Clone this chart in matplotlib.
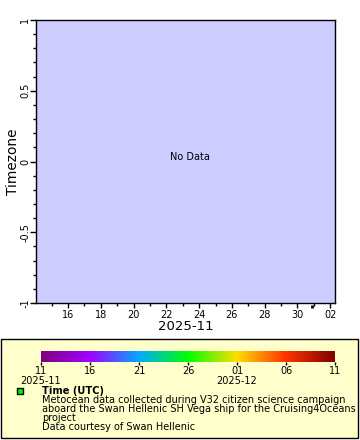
import datetime as dt
import matplotlib
matplotlib.use('Agg')
from matplotlib import pyplot as plt
import matplotlib.dates as mdates
from matplotlib.colors import LinearSegmentedColormap, Normalize
from matplotlib.colorbar import ColorbarBase
from matplotlib.patches import Rectangle
from matplotlib.ticker import MultipleLocator

# axis range and ticks
x_start, x_end = dt.datetime(2025, 11, 14, 1), dt.datetime(2025, 12, 2, 7)
x_ticks = [dt.datetime(2025, 11, d) for d in range(16, 31, 2)] + [dt.datetime(2025, 12, 2)]
x_minor = [dt.datetime(2025, 11, d) for d in range(15, 31, 2)] + [dt.datetime(2025, 12, 1)]
y_ticks = [-1, -0.5, 0, 0.5, 1]
y_ticklabels = ['-1', '-0.5', '0', '0.5', '1']
last_mark = dt.datetime(2025, 11, 30, 22)

# colour bar (time, UTC)
cb_start, cb_end = dt.datetime(2025, 11, 11), dt.datetime(2025, 12, 11)
cb_ticks = [dt.datetime(2025, 11, 11), dt.datetime(2025, 11, 16), dt.datetime(2025, 11, 21),
            dt.datetime(2025, 11, 26), dt.datetime(2025, 12, 1), dt.datetime(2025, 12, 6),
            dt.datetime(2025, 12, 11)]
cb_ticklabels = ['11\n2025-11', '16', '21', '26', '01\n2025-12', '06', '11']
cb_colors = ['#800080', '#a000ff', '#00aaff', '#00ff00', '#ffdd00', '#ff3300', '#800000']

legend_lines = ['Metocean data collected during V32 citizen science campaign',
                'aboard the Swan Hellenic SH Vega ship for the Cruising4Oceans',
                'project',
                'Data courtesy of Swan Hellenic']

W, H = 360, 440
fig = plt.figure(figsize=(W / 100, H / 100), dpi=100)

# legend background, pixel coordinates
lg = fig.add_axes([0, 0, 1, 1], zorder=0)
lg.set_xlim(0, W)
lg.set_ylim(H, 0)
lg.axis('off')
lg.add_patch(Rectangle((1, 339.5), 357, 99, facecolor='#ffffcc', edgecolor='black', linewidth=1))
lg.plot([20], [391], marker='s', markersize=5, markerfacecolor='#00ee00', markeredgecolor='black',
        markeredgewidth=1)
lg.text(42, 391, 'Time (UTC)', fontsize=7.1, fontweight='bold', va='center', ha='left')
for i, line in enumerate(legend_lines):
    lg.text(42, 400.3 + i * 8.8, line, fontsize=7.07, va='center', ha='left')

# main axes
ax = fig.add_axes([36 / W, 1 - 303 / H, 299 / W, 283 / H], zorder=1)
ax.set_facecolor('#ccccff')
ax.xaxis_date()
ax.set_xlim(x_start, x_end)
ax.set_ylim(-1, 1)
ax.set_xticks(x_ticks)
ax.set_xticks(x_minor, minor=True)
ax.xaxis.set_major_formatter(mdates.DateFormatter('%d'))
ax.set_yticks(y_ticks)
ax.set_yticklabels(y_ticklabels, rotation=90, va='center')
ax.yaxis.set_minor_locator(MultipleLocator(0.1))
ax.tick_params(axis='both', which='major', labelsize=7, direction='out', length=3.5, width=1, pad=1.5)
ax.tick_params(axis='both', which='minor', direction='out', length=2, width=1)
ax.tick_params(axis='y', which='major', length=4, pad=0)
for s in ax.spines.values():
    s.set_linewidth(1)
ax.set_xlabel('2025-11', fontsize=9.5, labelpad=0)
ax.set_ylabel('Timezone', fontsize=9.8, labelpad=0)
ax.text(0.515, 0.515, 'No Data', transform=ax.transAxes, fontsize=7, ha='center', va='center')
ax.plot([last_mark, last_mark], [-0.007, -0.019], color='black', linewidth=2,
        transform=ax.get_xaxis_transform(), clip_on=False, solid_capstyle='butt')

# colour bar
cax = fig.add_axes([41 / W, 1 - 362 / H, 294 / W, 11 / H], zorder=2)
cmap = LinearSegmentedColormap.from_list('rainbow2', cb_colors)
norm = Normalize(vmin=mdates.date2num(cb_start), vmax=mdates.date2num(cb_end))
cb = ColorbarBase(cax, cmap=cmap, norm=norm, orientation='horizontal')
cb.outline.set_visible(False)
cb.set_ticks([mdates.date2num(t) for t in cb_ticks])
cb.set_ticklabels(cb_ticklabels)
cax.tick_params(labelsize=7, length=2.5, width=1, pad=0.5)
for lbl in cax.get_xticklabels():
    lbl.set_linespacing(0.95)

fig.savefig('out.png', dpi=100)
